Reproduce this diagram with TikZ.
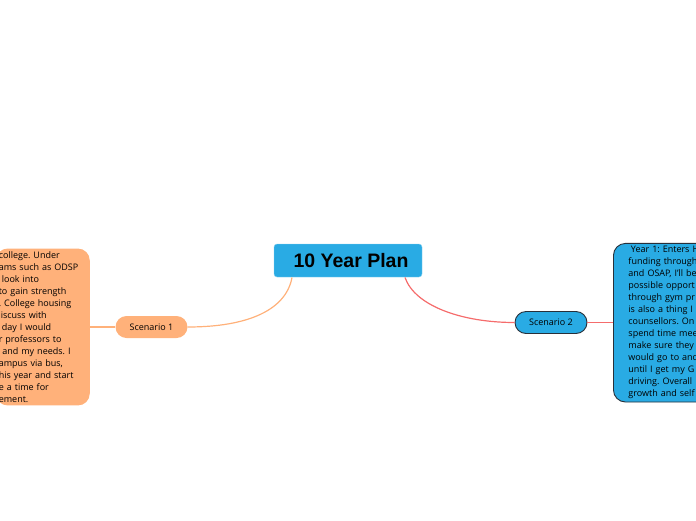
\documentclass[tikz,border=0pt]{standalone}
\usepackage{fontspec}
\setmainfont{Open Sans}
\newfontfamily\titlefont{Liberation Sans}
\usepackage{tikz}
\usetikzlibrary{positioning}
\frenchspacing

\definecolor{skyblue}{RGB}{41,171,228}
\definecolor{peach}{RGB}{255,177,122}
\definecolor{coral}{RGB}{245,108,108}
\definecolor{darkrim}{RGB}{40,48,58}

\begin{document}
\begin{tikzpicture}[x=1pt,y=-1pt,
    every node/.style={font=\fontsize{9}{12}\selectfont, text=black},
    topic/.style={fill=skyblue, draw=skyblue!55!white, rounded corners=3pt,
        minimum width=148pt, minimum height=33pt, inner sep=0pt},
    branch/.style={rounded corners=11pt, minimum width=72pt, minimum height=22pt, inner sep=0pt},
    note/.style={rounded corners=12pt, align=left, inner ysep=3pt},
    wire/.style={line width=1.2pt}]
    \useasboundingbox (0,0) rectangle (696,520);
    \clip (0,0) rectangle (696,520);
    %%%%% THE CENTRAL TOPIC
    \node[topic] (plan) at (348,260.5) {\hspace*{6pt}\titlefont\bfseries\fontsize{19.5}{22}\selectfont 10 Year Plan};
    %%%%% THE TWO SCENARIOS
    \node[branch, fill=peach] (scenA) at (151.5,327) {Scenario 1};
    \node[branch, fill=skyblue, draw=darkrim, line width=0.9pt] (scenB) at (551,322.5) {Scenario 2};
    %%%%% THE NOTES
    \node[note, fill=peach, anchor=east, inner xsep=3pt, text width=88pt] (noteA) at (90,327) {%
      college. Under\\
      ams such as ODSP\\
      \hspace*{3pt}look into\\
      to gain strength\\
      . College housing\\
      \hspace*{2pt}iscuss with\\
      \hspace*{3pt}day I would\\
      r professors to\\
      \hspace*{3.5pt}and my needs. I\\
      ampus via bus,\\
      his year and start\\
      e a time for\\
      ement.};
    \node[note, fill=skyblue, draw=darkrim, line width=0.9pt, anchor=west, inner xsep=15pt, text width=120pt] (noteB) at (613,322.7) {%
      \hspace*{2.5pt}Year 1: Enters H\\
      funding through\\
      and OSAP, I'll be\\
      possible opport\\
      through gym pr\\
      is also a thing I\\
      counsellors. On\\
      spend time mee\\
      make sure they\\
      would go to and\\
      until I get my G\\
      driving. Overall\\
      growth and self};
    %%%% LINKS
    \draw[wire, peach] (292,277.5) .. controls (286,310) and (248,327) .. (scenA.east);
    \draw[wire, peach] (scenA.west) -- (noteA.east |- scenA.west);
    \draw[wire, coral] (405,277.5) .. controls (415,306) and (462,322.5) .. (scenB.west);
    \draw[wire, coral] (scenB.east) -- (noteB.west |- scenB.east);
\end{tikzpicture}
\end{document}
